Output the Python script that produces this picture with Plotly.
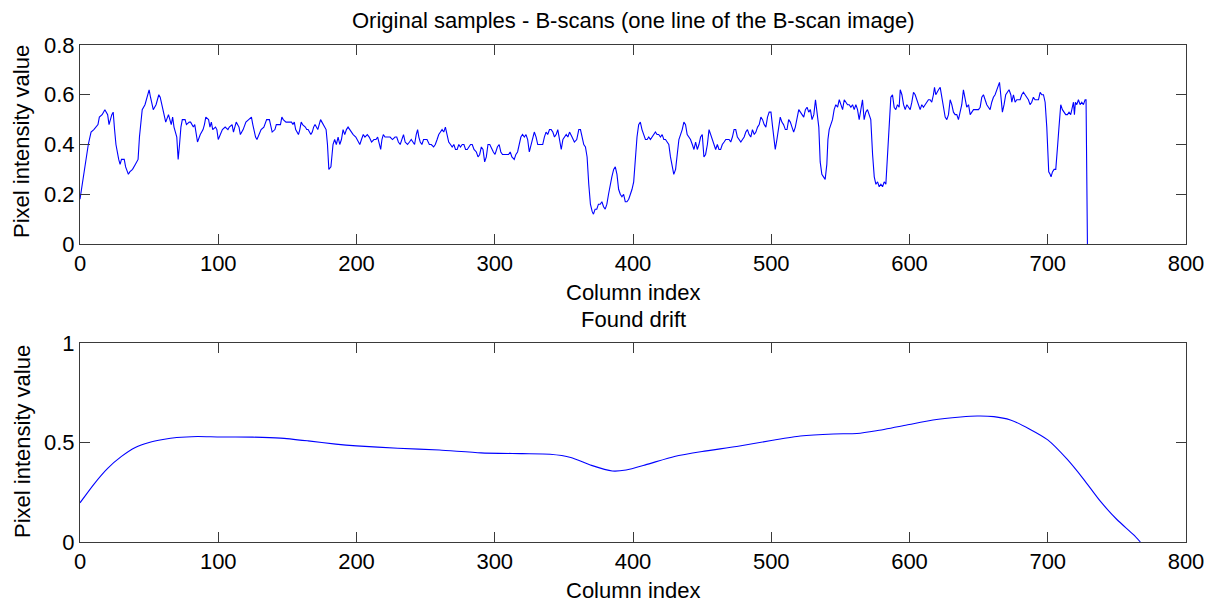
import plotly.graph_objects as go
from plotly.subplots import make_subplots

# One line of the B-scan image: column index vs pixel intensity
scan_x = [
    0, 2, 4, 6, 8, 10, 13, 14, 16, 18, 20, 21, 23, 24, 25, 26, 28, 29, 30, 32,
    33, 35, 36, 38, 40, 42, 43, 45, 47, 49, 50, 51, 53, 55, 57, 58, 60, 61, 62, 64,
    65, 66, 67, 68, 70, 71, 72, 73, 74, 76, 77, 79, 80, 82, 83, 84, 85, 87, 89, 90,
    91, 93, 94, 95, 96, 98, 99, 100, 102, 103, 105, 107, 108, 110, 111, 113, 115, 116, 118, 119,
    120, 122, 124, 125, 127, 128, 130, 131, 133, 134, 135, 137, 138, 139, 141, 142, 144, 145, 146, 147,
    149, 150, 153, 154, 155, 156, 158, 159, 160, 161, 163, 164, 165, 167, 168, 169, 170, 172, 173, 174,
    175, 177, 178, 179, 180, 181.5,
    183.0, 184.2, 185.4, 186.7, 187.9, 189.1, 190.3, 191.5, 192.7, 193.9, 195.1, 196.4, 197.6, 199.5,
    201.2, 202.4, 203.6, 204.9, 206.1, 207.8, 209.2, 210.9, 212.6, 214.1, 215.3, 216.5, 217.5, 218.4,
    219.4, 220.6, 221.8, 224.3, 226.0, 227.9, 229.1, 230.3, 231.6, 232.8, 234.0, 235.2, 236.9, 238.3,
    239.6, 240.8, 242.0, 243.2, 244.2, 245.1, 246.1, 247.3, 248.5, 249.8, 251.0, 252.7, 254.1, 255.8,
    257.0, 258.3, 259.5, 260.7, 261.9, 263.1, 264.3, 265.5, 266.7, 268.0, 269.2, 270.4, 271.6, 272.8,
    274.0, 275.2, 276.5, 277.7, 278.9, 280.1, 281.3, 282.5, 283.7, 285.0, 286.7, 287.9, 289.1, 290.3,
    291.5, 292.7, 293.9, 295.1, 296.4, 297.8, 299.0, 300.2, 301.9, 303.2, 304.4, 305.6, 307.3, 308.7,
    310.0, 311.2, 312.4, 314.1, 315.3, 316.5, 317.7, 318.9, 320.1, 321.4, 322.6, 323.8, 325.0, 326.2,
    327.4, 328.6, 329.9, 331.1, 332.3, 333.5, 334.7, 335.9, 337.1, 338.3, 339.6, 340.8, 342.0, 343.2,
    344.4, 345.6, 346.8, 348.1, 349.3, 350.5, 351.7, 352.9, 354.1,
    355.9, 357.6, 359.3, 360.8, 362.0, 363.2, 364.4, 365.6, 366.8, 368.0, 369.2, 370.5, 371.4, 372.6,
    373.8, 375.0, 376.3, 377.5, 378.7, 379.9, 381.1, 382.3, 383.5, 384.7, 386.0, 387.2, 388.4, 389.6,
    390.8, 392.0, 393.2, 394.4, 395.6, 396.9, 398.1, 399.3, 400.5, 401.7, 402.9, 404.1, 405.3, 406.5,
    407.7, 409.0, 410.2, 411.4, 412.6, 413.8, 415.0, 416.2, 417.4, 418.6, 419.9, 421.1, 422.3, 423.5,
    424.7, 425.9, 427.1, 428.3, 429.5, 430.8, 432.0, 433.2, 434.4, 435.6, 436.8, 438.0, 439.2, 440.4,
    441.6, 442.9, 444.1, 445.3, 446.5, 447.7, 448.9, 450.1, 451.3, 452.5, 453.8, 455.0, 456.2, 457.4,
    458.6, 459.8, 461.0, 462.2, 463.4, 464.6, 465.9, 467.1, 468.3, 469.5, 470.7, 471.9, 473.1, 474.3,
    475.5, 476.8, 478.0, 479.2, 480.4, 481.6, 482.8, 484.0, 485.2, 486.4, 487.7, 488.9, 490.1, 491.3,
    492.5, 493.7, 494.9, 496.1, 497.3, 498.5, 499.8, 501.0, 502.2, 502.9, 504.1, 505.3, 506.5, 507.7,
    508.9, 510.2, 511.4, 512.6, 513.8, 515.0, 516.2, 517.4, 518.6, 519.9, 521.1, 522.3, 523.5, 524.7,
    525.9, 527.1, 528.3, 529.5, 530.8, 532.0, 533.2, 534.4,
    535.4, 536.6, 537.8, 539.0, 540.2, 541.0, 541.9, 543.1, 544.3, 545.5, 546.7, 548.0, 549.2, 550.4,
    551.6, 552.8, 554.0, 555.2, 556.4, 557.6, 558.8, 560.0, 561.2, 562.4, 563.6, 564.8, 566.0, 567.2,
    568.4, 569.6, 570.8, 572.0, 573.3, 574.5, 575.7, 576.9, 578.1, 579.3, 580.5, 581.7, 582.9, 583.6,
    584.3, 585.3, 586.5, 587.7, 588.9, 590.1, 591.3, 592.5, 593.3, 594.5, 595.7, 596.9, 598.1, 599.3,
    600.5, 601.7, 602.9, 604.1, 605.3, 606.5, 607.7, 608.9, 610.1, 611.3, 612.5, 613.7, 614.9, 616.1,
    617.3, 618.1, 619.0, 619.8, 621.0, 622.2, 623.4, 624.6, 625.8, 627.0, 628.2, 629.4, 630.6, 631.8,
    633.0, 634.2, 635.4, 636.6, 637.8, 639.0, 640.2, 641.4, 642.7, 643.9, 645.1, 646.3, 647.5, 648.7,
    649.9, 651.1, 652.3, 653.5, 654.7, 655.9, 657.1, 658.3, 659.5, 660.7, 661.9, 663.1, 664.3, 665.1,
    666.0, 667.2, 668.4, 669.6, 670.8, 672.0, 673.3, 674.0, 675.2, 676.4, 677.6, 678.8, 680.0, 681.2,
    682.4, 683.6, 684.8, 686.0, 687.2, 688.4, 689.6, 690.8, 692.0, 693.3, 694.5, 695.7, 696.9, 698.1,
    699.3, 700.0, 700.7, 701.7, 702.4, 703.4, 704.6, 705.8, 706.5, 707.2, 708.0, 708.7, 709.4, 710.6,
    711.8, 713.0, 714.2, 715.4, 716.6, 717.3, 718.6, 719.3, 720.0, 721.0, 722.2, 723.4, 724.6, 725.8,
    727.0, 727.7, 728.2, 728.7,
]
scan_y = [
    0.18, 0.26, 0.32, 0.40, 0.45, 0.46, 0.48, 0.51, 0.52, 0.54, 0.52, 0.48, 0.52, 0.53, 0.46, 0.40, 0.34, 0.32, 0.34, 0.34,
    0.31, 0.28, 0.29, 0.30, 0.32, 0.34, 0.43, 0.54, 0.56, 0.60, 0.62, 0.59, 0.54, 0.56, 0.60, 0.59, 0.54, 0.52, 0.49, 0.52,
    0.50, 0.48, 0.51, 0.47, 0.43, 0.34, 0.40, 0.47, 0.50, 0.50, 0.48, 0.49, 0.49, 0.47, 0.48, 0.44, 0.41, 0.44, 0.46, 0.48,
    0.51, 0.50, 0.47, 0.49, 0.46, 0.47, 0.46, 0.42, 0.45, 0.46, 0.47, 0.46, 0.47, 0.48, 0.45, 0.49, 0.47, 0.44, 0.46, 0.48,
    0.49, 0.50, 0.51, 0.48, 0.43, 0.42, 0.45, 0.46, 0.47, 0.49, 0.50, 0.50, 0.48, 0.45, 0.46, 0.48, 0.48, 0.48, 0.51, 0.50,
    0.49, 0.49, 0.49, 0.48, 0.49, 0.46, 0.44, 0.46, 0.49, 0.48, 0.47, 0.46, 0.46, 0.44, 0.45, 0.47, 0.48, 0.46, 0.48, 0.50,
    0.49, 0.47, 0.46, 0.40, 0.30, 0.31,
    0.40, 0.42, 0.40, 0.43, 0.40, 0.42, 0.46, 0.44, 0.46, 0.47, 0.46, 0.45, 0.44, 0.43,
    0.41, 0.40, 0.42, 0.44, 0.43, 0.44, 0.43, 0.41, 0.42, 0.42, 0.43, 0.40, 0.38, 0.42,
    0.44, 0.43, 0.43, 0.43, 0.42, 0.43, 0.43, 0.41, 0.40, 0.42, 0.44, 0.41, 0.40, 0.41,
    0.42, 0.41, 0.40, 0.44, 0.46, 0.43, 0.41, 0.40, 0.42, 0.42, 0.42, 0.40, 0.40, 0.39,
    0.40, 0.42, 0.44, 0.45, 0.46, 0.45, 0.47, 0.44, 0.41, 0.40, 0.39, 0.40, 0.38, 0.38,
    0.40, 0.39, 0.40, 0.40, 0.38, 0.38, 0.39, 0.40, 0.40, 0.38, 0.37, 0.35, 0.36, 0.39,
    0.38, 0.33, 0.35, 0.40, 0.40, 0.38, 0.37, 0.36, 0.39, 0.40, 0.37, 0.36, 0.36, 0.36,
    0.36, 0.37, 0.35, 0.34, 0.36, 0.37, 0.40, 0.43, 0.44, 0.43, 0.44, 0.42, 0.37, 0.40,
    0.43, 0.45, 0.43, 0.40, 0.40, 0.40, 0.40, 0.43, 0.45, 0.44, 0.46, 0.46, 0.45, 0.43,
    0.44, 0.46, 0.42, 0.38, 0.42, 0.43, 0.44, 0.43, 0.45,
    0.43, 0.41, 0.42, 0.46, 0.46, 0.43, 0.40, 0.39, 0.35, 0.24, 0.16, 0.13, 0.12, 0.14,
    0.14, 0.16, 0.16, 0.17, 0.15, 0.14, 0.16, 0.20, 0.24, 0.27, 0.30, 0.31, 0.28, 0.22,
    0.20, 0.19, 0.20, 0.17, 0.17, 0.18, 0.20, 0.22, 0.25, 0.35, 0.43, 0.48, 0.49, 0.46,
    0.44, 0.42, 0.42, 0.43, 0.42, 0.43, 0.44, 0.45, 0.44, 0.44, 0.43, 0.44, 0.42, 0.42,
    0.41, 0.40, 0.35, 0.32, 0.28, 0.30, 0.35, 0.42, 0.44, 0.46, 0.49, 0.48, 0.44, 0.43,
    0.42, 0.40, 0.38, 0.41, 0.38, 0.40, 0.43, 0.44, 0.35, 0.36, 0.40, 0.46, 0.44, 0.42,
    0.40, 0.38, 0.40, 0.38, 0.38, 0.40, 0.41, 0.42, 0.42, 0.42, 0.41, 0.43, 0.46, 0.46,
    0.43, 0.42, 0.41, 0.42, 0.43, 0.45, 0.46, 0.44, 0.43, 0.46, 0.44, 0.45, 0.47, 0.48,
    0.51, 0.50, 0.48, 0.47, 0.51, 0.53, 0.53, 0.47, 0.42, 0.38, 0.42, 0.46, 0.51, 0.49,
    0.48, 0.46, 0.46, 0.50, 0.49, 0.47, 0.45, 0.47, 0.50, 0.54, 0.53, 0.52, 0.51, 0.54,
    0.55, 0.53, 0.54, 0.50, 0.52, 0.58, 0.52, 0.47,
    0.33, 0.28, 0.27, 0.26, 0.32, 0.42, 0.46, 0.48, 0.50, 0.54, 0.56, 0.55, 0.58, 0.56,
    0.54, 0.58, 0.57, 0.56, 0.56, 0.55, 0.56, 0.54, 0.56, 0.54, 0.50, 0.54, 0.58, 0.50,
    0.53, 0.54, 0.52, 0.50, 0.36, 0.27, 0.24, 0.25, 0.23, 0.24, 0.23, 0.25, 0.24, 0.30,
    0.39, 0.48, 0.59, 0.60, 0.55, 0.54, 0.56, 0.55, 0.62, 0.60, 0.56, 0.54, 0.56, 0.55,
    0.54, 0.57, 0.61, 0.60, 0.58, 0.56, 0.54, 0.56, 0.55, 0.56, 0.57, 0.58, 0.58, 0.57,
    0.60, 0.63, 0.60, 0.61, 0.62, 0.63, 0.59, 0.54, 0.51, 0.50, 0.52, 0.58, 0.56, 0.53,
    0.52, 0.52, 0.50, 0.53, 0.56, 0.62, 0.58, 0.55, 0.56, 0.52, 0.53, 0.54, 0.54, 0.54,
    0.54, 0.55, 0.59, 0.60, 0.58, 0.56, 0.55, 0.54, 0.57, 0.59, 0.60, 0.62, 0.64, 0.65,
    0.60, 0.53, 0.56, 0.60, 0.61, 0.62, 0.60, 0.57, 0.60, 0.57, 0.58, 0.58, 0.58, 0.60,
    0.61, 0.60, 0.59, 0.58, 0.56, 0.57, 0.59, 0.58, 0.58, 0.58, 0.61, 0.60, 0.60, 0.57,
    0.47, 0.36, 0.29, 0.28, 0.27, 0.29, 0.30, 0.30, 0.34, 0.40, 0.46, 0.54, 0.56, 0.54,
    0.53, 0.52, 0.52, 0.53, 0.52, 0.54, 0.57, 0.52, 0.57, 0.56, 0.58, 0.56, 0.57, 0.56,
    0.58, 0.58, 0.29, 0.0,
]

# Estimated drift curve
drift_x = [0, 10, 20, 30, 40, 50, 60, 70, 85, 100, 125, 145, 165, 185, 200, 230, 260, 290,
           320, 340, 355, 370, 385, 395, 410, 430, 450, 475, 500, 521, 545, 562, 576, 598,
           617, 637, 649, 661, 673, 687, 700, 714, 726, 738, 750, 762, 767]
drift_y = [0.197, 0.29, 0.37, 0.43, 0.475, 0.50, 0.515, 0.525, 0.53, 0.528, 0.527, 0.522,
           0.508, 0.492, 0.483, 0.471, 0.462, 0.448, 0.444, 0.441, 0.425, 0.385, 0.357,
           0.362, 0.39, 0.43, 0.455, 0.48, 0.51, 0.533, 0.543, 0.545, 0.559, 0.588, 0.613,
           0.628, 0.633, 0.630, 0.613, 0.567, 0.513, 0.416, 0.315, 0.205, 0.113, 0.037, 0.0]

x_ticks = [0, 100, 200, 300, 400, 500, 600, 700, 800]
top_y_ticks = [0, 0.2, 0.4, 0.6, 0.8]
bottom_y_ticks = [0, 0.5, 1]

FONT = "Liberation Sans, Arial, Helvetica, sans-serif"
FS = 22
AXIS_COLOR = "#3a3a3a"
LINE_COLOR = "#0000ff"

# Plot area: 80..1186 px horizontally, 45..542 px vertically
M_L, M_R, M_T, M_B = 80, 30, 45, 62
W, H = 1216, 604
PH = H - M_T - M_B


def py(pix):
    """Paper y coordinate from a pixel row."""
    return (H - M_B - pix) / PH


def px(pix):
    """Paper x coordinate from a pixel column."""
    return (pix - M_L) / (W - M_L - M_R)


fig = make_subplots(rows=2, cols=1)
fig.add_trace(go.Scatter(x=scan_x, y=scan_y, mode="lines",
                         line=dict(color=LINE_COLOR, width=1.1), showlegend=False),
              row=1, col=1)
fig.add_trace(go.Scatter(x=drift_x, y=drift_y, mode="lines",
                         line=dict(color=LINE_COLOR, width=1.1, shape="spline", smoothing=0.6),
                         showlegend=False),
              row=2, col=1)

axis_common = dict(showline=True, linecolor=AXIS_COLOR, linewidth=1, mirror="allticks",
                   ticks="inside", ticklen=10, tickwidth=1, tickcolor=AXIS_COLOR,
                   showgrid=False, zeroline=False,
                   tickfont=dict(family=FONT, size=FS, color="black"))

fig.update_xaxes(range=[0, 800], tickvals=x_ticks, **axis_common)
fig.update_layout(
    xaxis=dict(domain=[0, 1]),
    xaxis2=dict(domain=[0, 1]),
    yaxis=dict(domain=[py(244), 1.0], range=[0, 0.8], tickvals=top_y_ticks,
               ticktext=["0", "0.2", "0.4", "0.6", "0.8"], **axis_common),
    yaxis2=dict(domain=[0.0, py(343)], range=[0, 1], tickvals=bottom_y_ticks,
                ticktext=["0", "0.5", "1"], **axis_common),
)

annotations = [
    dict(text="Original samples - B-scans (one line of the B-scan image)",
         x=0.5, y=py(21)),
    dict(text="Column index", x=0.5, y=py(292)),
    dict(text="Found drift", x=0.5, y=py(319)),
    dict(text="Column index", x=0.5, y=py(590)),
    dict(text="Pixel intensity value", x=px(22), y=py(142), textangle=-90),
    dict(text="Pixel intensity value", x=px(22), y=py(442), textangle=-90),
]
for a in annotations:
    fig.add_annotation(xref="paper", yref="paper", showarrow=False,
                       xanchor="center", yanchor="middle",
                       font=dict(family=FONT, size=FS, color="black"), **a)

fig.update_layout(
    width=W, height=H,
    margin=dict(l=M_L, r=M_R, t=M_T, b=M_B),
    paper_bgcolor="white", plot_bgcolor="white",
    font=dict(family=FONT, size=FS, color="black"),
)

fig.write_html("out.html", config={"displayModeBar": False})
